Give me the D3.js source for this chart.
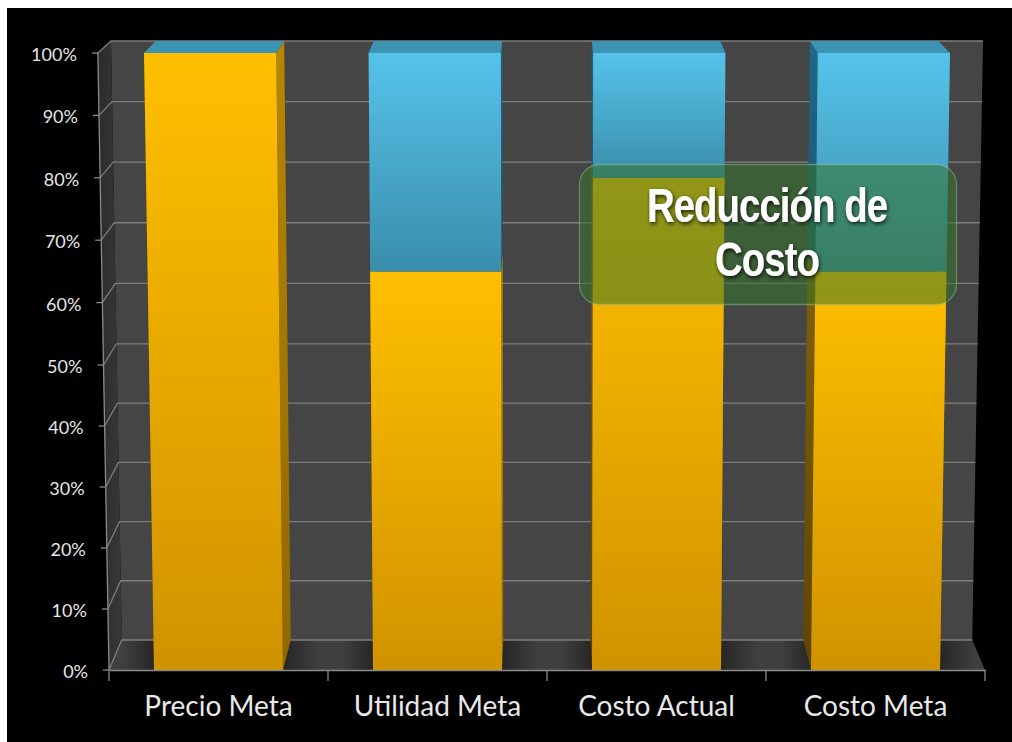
<!DOCTYPE html>
<html>
<head>
<meta charset="utf-8">
<script src="https://cdn.jsdelivr.net/npm/d3@7"></script>
<style>
  html, body { margin: 0; padding: 0; background: #fff; overflow: hidden; }
  svg { display: block; }
</style>
</head>
<body>
<svg id="chart" width="1012" height="742"></svg>
<script>
// Stacked 100% columns: target price split into cost and margin.
const categories = ["Precio Meta", "Utilidad Meta", "Costo Actual", "Costo Meta"];
const costShare = [100, 65, 80, 65];
const marginShare = [0, 35, 20, 35];
const percentTicks = [0, 10, 20, 30, 40, 50, 60, 70, 80, 90, 100];
const calloutLines = ["Reducción de", "Costo"];

const svg = d3.select("#chart");
const defs = svg.append("defs");

svg.append("rect").attr("x", 7).attr("y", 8).attr("width", 1005).attr("height", 734).attr("fill", "#000");

// Scales for the front plane of the chart box.
const xBand = d3.scaleBand().domain(categories).range([109, 985])
  .paddingInner(0.411).paddingOuter(0.2055);
const yFront = d3.scaleLinear().domain([0, 50, 100]).range([670, 365, 53]);

// Vanishing-point projection: taller values lean outward, deeper points shrink toward the centre.
const vanishX = 547, vanishY = -358;
function project(xBase, value, depth) {
  const spread = 1 + 0.0254 * value / 100;
  const xf = vanishX + (xBase - vanishX) * spread;
  const yf = yFront(value);
  const k = 1 - 0.0292 * depth;
  return [vanishX + (xf - vanishX) * k, vanishY + (yf - vanishY) * k];
}
const poly = pts => pts.map(p => p.join(",")).join(" ");

function gradient(id, stops, attrs) {
  const g = defs.append("linearGradient").attr("id", id)
    .attr("x1", 0).attr("y1", 0).attr("x2", attrs && attrs.horizontal ? 1 : 0).attr("y2", attrs && attrs.horizontal ? 0 : 1);
  stops.forEach(([o, c]) => g.append("stop").attr("offset", o).attr("stop-color", c));
  return `url(#${id})`;
}

const [x0, x1] = xBand.range();

// Back wall, side wall and floor.
svg.append("polygon").attr("points", poly([project(x0, 0, 1), project(x0, 100, 1), project(x1, 100, 1), project(x1, 0, 1)]))
  .attr("fill", "#464545");
svg.append("polygon").attr("points", poly([project(x0, 0, 0), project(x0, 100, 0), project(x0, 100, 1), project(x0, 0, 1)]))
  .attr("fill", gradient("sideWall", [[0, "#2b2b2b"], [1, "#383838"]], { horizontal: true }));

// Floor shading darkens next to each column.
const floorGrad = defs.append("linearGradient").attr("id", "floor")
  .attr("gradientUnits", "userSpaceOnUse").attr("x1", x0).attr("x2", x1).attr("y1", 0).attr("y2", 0);
const floorOffset = x => (x - x0) / (x1 - x0);
floorGrad.append("stop").attr("offset", 0).attr("stop-color", "#3f3f3f");
categories.forEach(c => {
  const l = xBand(c), r = l + xBand.bandwidth();
  floorGrad.append("stop").attr("offset", floorOffset(l - 30)).attr("stop-color", "#3f3f3f");
  floorGrad.append("stop").attr("offset", floorOffset(l)).attr("stop-color", "#262626");
  floorGrad.append("stop").attr("offset", floorOffset(r)).attr("stop-color", "#262626");
  floorGrad.append("stop").attr("offset", floorOffset(r + 36)).attr("stop-color", "#3f3f3f");
});
svg.append("polygon").attr("points", poly([project(x0, 0, 0), project(x0, 0, 1), project(x1, 0, 1), project(x1, 0, 0)]))
  .attr("fill", "url(#floor)");

// Gridlines run along the back wall and down the side wall.
const grid = svg.append("g").attr("fill", "none").attr("stroke", "#7e7e7e").attr("stroke-width", 1.3);
percentTicks.forEach(t => {
  grid.append("polyline").attr("points", poly([project(x0, t, 0), project(x0, t, 1), project(x1, t, 1)]));
});

// Columns; faces turned toward the left of the box sit in deeper shade.
const orangeFront = gradient("orangeFront", [[0, "#ffbf00"], [1, "#d09300"]]);
const orangeRight = gradient("orangeRight", [[0, "#b88600"], [1, "#8f6700"]]);
const orangeLeft = gradient("orangeLeft", [[0, "#83600c"], [1, "#5e4500"]]);
const blueFront = gradient("blueFront", [[0, "#56c3ea"], [1, "#3a8dab"]]);
const blueSide = gradient("blueSide", [[0, "#1f6888"], [1, "#1a5670"]]);

const columns = svg.append("g").selectAll("g").data(categories).join("g");
columns.each(function (cat, i) {
  const g = d3.select(this);
  const l = xBand(cat), r = l + xBand.bandwidth();
  const segs = [
    { from: 0, to: costShare[i], front: orangeFront, right: orangeRight, left: orangeLeft },
    { from: costShare[i], to: costShare[i] + marginShare[i], front: blueFront, right: blueSide, left: blueSide }
  ];
  segs.forEach(s => {
    if (s.to <= s.from) return;
    g.append("polygon").attr("points", poly([project(r, s.from, 0), project(r, s.to, 0), project(r, s.to, 1), project(r, s.from, 1)])).attr("fill", s.right);
    g.append("polygon").attr("points", poly([project(l, s.from, 0), project(l, s.to, 0), project(l, s.to, 1), project(l, s.from, 1)])).attr("fill", s.left);
    g.append("polygon").attr("points", poly([project(l, s.from, 0), project(l, s.to, 0), project(r, s.to, 0), project(r, s.from, 0)])).attr("fill", s.front);
  });
  g.append("polygon").attr("points", poly([project(l, 100, 0), project(l, 100, 1), project(r, 100, 1), project(r, 100, 0)])).attr("fill", "#3c93b4");
});

// Value axis: the generated ticks are shifted onto the slanted front edge.
const axisFont = "Lato, 'Open Sans', sans-serif";
const yAxis = svg.append("g").call(
  d3.axisLeft(yFront).tickValues(percentTicks).tickSize(6).tickPadding(15).tickFormat(d => d + "%")
);
yAxis.selectAll(".tick").attr("transform", d => {
  const p = project(x0, d, 0);
  return `translate(${p[0]},${p[1]})`;
});
yAxis.select(".domain").attr("d", d3.line()([project(x0, 0, 0), project(x0, 100, 0)]))
  .attr("stroke", "#8a8a8a").attr("stroke-width", 1.3).attr("fill", "none");
yAxis.selectAll(".tick line").attr("stroke", "#8a8a8a").attr("stroke-width", 1.3);
yAxis.selectAll(".tick text").attr("fill", "#e6e6e6").attr("font-family", axisFont).attr("font-size", 18)
  .attr("dy", "0.44em");

// Category axis with separators at the band edges.
const xAxis = svg.append("g").attr("transform", `translate(0,${yFront(0)})`).call(
  d3.axisBottom(xBand).tickSize(0).tickPadding(26)
);
xAxis.select(".domain").attr("stroke", "#8a8a8a").attr("stroke-width", 1.3);
xAxis.selectAll(".tick text").attr("fill", "#e8e8e8").attr("font-family", axisFont).attr("font-size", 28);
const separators = d3.range(categories.length + 1).map(i => x0 + i * xBand.step());
xAxis.append("g").selectAll("line").data(separators).join("line")
  .attr("x1", d => d).attr("x2", d => d).attr("y1", 0).attr("y2", 11)
  .attr("stroke", "#8a8a8a").attr("stroke-width", 1.3);

// Callout across the last two columns.
defs.append("filter").attr("id", "calloutShadow").attr("x", "-10%").attr("y", "-20%").attr("width", "120%").attr("height", "140%")
  .append("feDropShadow").attr("dx", 1).attr("dy", 2).attr("stdDeviation", 2).attr("flood-color", "#000").attr("flood-opacity", 0.8);

svg.append("rect").attr("x", 579.5).attr("y", 164.5).attr("width", 377).attr("height", 140).attr("rx", 20)
  .attr("fill", "#36742b").attr("fill-opacity", 0.55)
  .attr("stroke", "#9cc796").attr("stroke-opacity", 0.45).attr("stroke-width", 1.3);

svg.append("g").attr("filter", "url(#calloutShadow)").selectAll("text").data(calloutLines).join("text")
  .attr("text-anchor", "middle").attr("fill", "#fff")
  .attr("transform", (d, i) => `translate(767,${222 + i * 54}) scale(0.8,1)`)
  .attr("font-family", "'Liberation Sans', Arial, sans-serif").attr("font-weight", 700)
  .attr("font-size", 48).attr("letter-spacing", -1.2)
  .text(d => d);
</script>
</body>
</html>
